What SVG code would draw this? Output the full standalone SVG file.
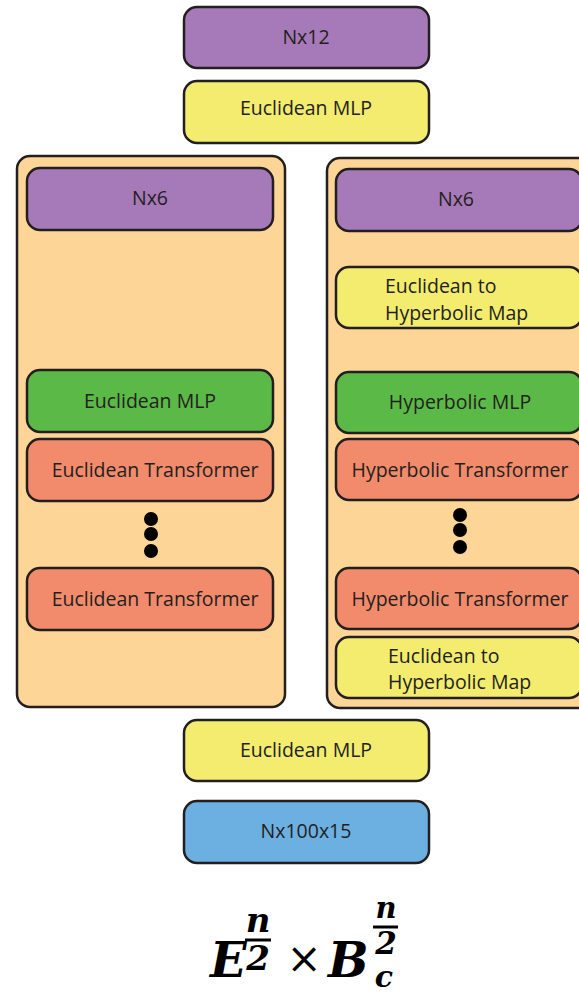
<svg xmlns="http://www.w3.org/2000/svg" width="579" height="993" viewBox="0 0 579 993">
  <style>
    .box { stroke: #231f20; stroke-width: 2.5; }
    .grp { fill: #fdd597; stroke: #231f20; stroke-width: 2.5; }
    .purple { fill: #a67ab8; }
    .yellow { fill: #f3ec6f; }
    .green { fill: #5bb947; }
    .salmon { fill: #f28b6b; }
    .blue { fill: #6cafe1; }
    .lbl { font-family: "Open Sans", "Noto Sans", sans-serif; font-size: 19.5px; fill: #231f20; }
    .mid { text-anchor: middle; }
    .math { font-family: "DejaVu Serif", serif; font-weight: bold; font-style: italic; fill: #000; }
    .dot { fill: #000; }
  </style>

  <!-- input -->
  <g id="input">
    <rect class="box purple" x="184" y="7" width="245" height="61" rx="13"/>
    <text class="lbl mid" x="306" y="44">Nx12</text>
  </g>
  <g id="mlp-in">
    <rect class="box yellow" x="184" y="81" width="245" height="62" rx="13"/>
    <text class="lbl mid" x="306" y="115">Euclidean MLP</text>
  </g>

  <!-- Euclidean branch -->
  <g id="euclidean-branch">
    <rect class="grp" x="17" y="156" width="268" height="551" rx="13"/>
    <g id="e-nx6">
      <rect class="box purple" x="27" y="168" width="246" height="62" rx="13"/>
      <text class="lbl mid" x="150" y="205">Nx6</text>
    </g>
    <g id="e-mlp">
      <rect class="box green" x="27" y="370" width="246" height="62" rx="13"/>
      <text class="lbl mid" x="150" y="408">Euclidean MLP</text>
    </g>
    <g id="e-transformer-1">
      <rect class="box salmon" x="27" y="439" width="246" height="62" rx="13"/>
      <text class="lbl mid" x="155" y="477">Euclidean Transformer</text>
    </g>
    <g id="e-ellipsis">
      <circle class="dot" cx="151" cy="519" r="7"/>
      <circle class="dot" cx="151" cy="534" r="7"/>
      <circle class="dot" cx="151" cy="551" r="7"/>
    </g>
    <g id="e-transformer-n">
      <rect class="box salmon" x="27" y="568" width="246" height="62" rx="13"/>
      <text class="lbl mid" x="155" y="606">Euclidean Transformer</text>
    </g>
  </g>

  <!-- Hyperbolic branch -->
  <g id="hyperbolic-branch">
    <rect class="grp" x="327" y="158" width="266" height="550" rx="13"/>
    <g id="h-nx6">
      <rect class="box purple" x="336" y="169" width="246" height="62" rx="13"/>
      <text class="lbl mid" x="456" y="206">Nx6</text>
    </g>
    <g id="h-map-in">
      <rect class="box yellow" x="336" y="267" width="246" height="61" rx="13"/>
      <text class="lbl" x="385" y="293">Euclidean to</text>
      <text class="lbl" x="385" y="320">Hyperbolic Map</text>
    </g>
    <g id="h-mlp">
      <rect class="box green" x="336" y="372" width="246" height="61" rx="13"/>
      <text class="lbl mid" x="460" y="409">Hyperbolic MLP</text>
    </g>
    <g id="h-transformer-1">
      <rect class="box salmon" x="336" y="439" width="246" height="61" rx="13"/>
      <text class="lbl mid" x="460" y="477">Hyperbolic Transformer</text>
    </g>
    <g id="h-ellipsis">
      <circle class="dot" cx="460" cy="515" r="7"/>
      <circle class="dot" cx="460" cy="530" r="7"/>
      <circle class="dot" cx="460" cy="547" r="7"/>
    </g>
    <g id="h-transformer-n">
      <rect class="box salmon" x="336" y="568" width="246" height="61" rx="13"/>
      <text class="lbl mid" x="460" y="606">Hyperbolic Transformer</text>
    </g>
    <g id="h-map-out">
      <rect class="box yellow" x="336" y="637" width="246" height="61" rx="13"/>
      <text class="lbl" x="388" y="663">Euclidean to</text>
      <text class="lbl" x="388" y="689">Hyperbolic Map</text>
    </g>
  </g>

  <!-- output -->
  <g id="mlp-out">
    <rect class="box yellow" x="184" y="720" width="245" height="61" rx="13"/>
    <text class="lbl mid" x="306" y="757">Euclidean MLP</text>
  </g>
  <g id="output">
    <rect class="box blue" x="184" y="801" width="245" height="62" rx="13"/>
    <text class="lbl mid" x="306" y="838">Nx100x15</text>
  </g>

  <g id="connectors"></g>

  <!-- product space formula -->
  <g id="formula">
    <text class="math" x="210" y="977" font-size="48">E</text>
    <text class="math mid" x="258" y="932" font-size="34">n</text>
    <rect x="245" y="938.5" width="26" height="3" fill="#000"/>
    <text class="math mid" x="258" y="970" font-size="34" font-style="normal">2</text>
    <text x="304" y="973" font-size="42" font-family="DejaVu Serif, serif" text-anchor="middle" fill="#000">×</text>
    <text class="math" x="328" y="977" font-size="48">B</text>
    <text class="math mid" x="386" y="918" font-size="29">n</text>
    <rect x="373" y="925.5" width="25" height="3" fill="#000"/>
    <text class="math mid" x="386" y="954" font-size="31" font-style="normal">2</text>
    <text class="math mid" x="384" y="987" font-size="30">c</text>
  </g>
</svg>
